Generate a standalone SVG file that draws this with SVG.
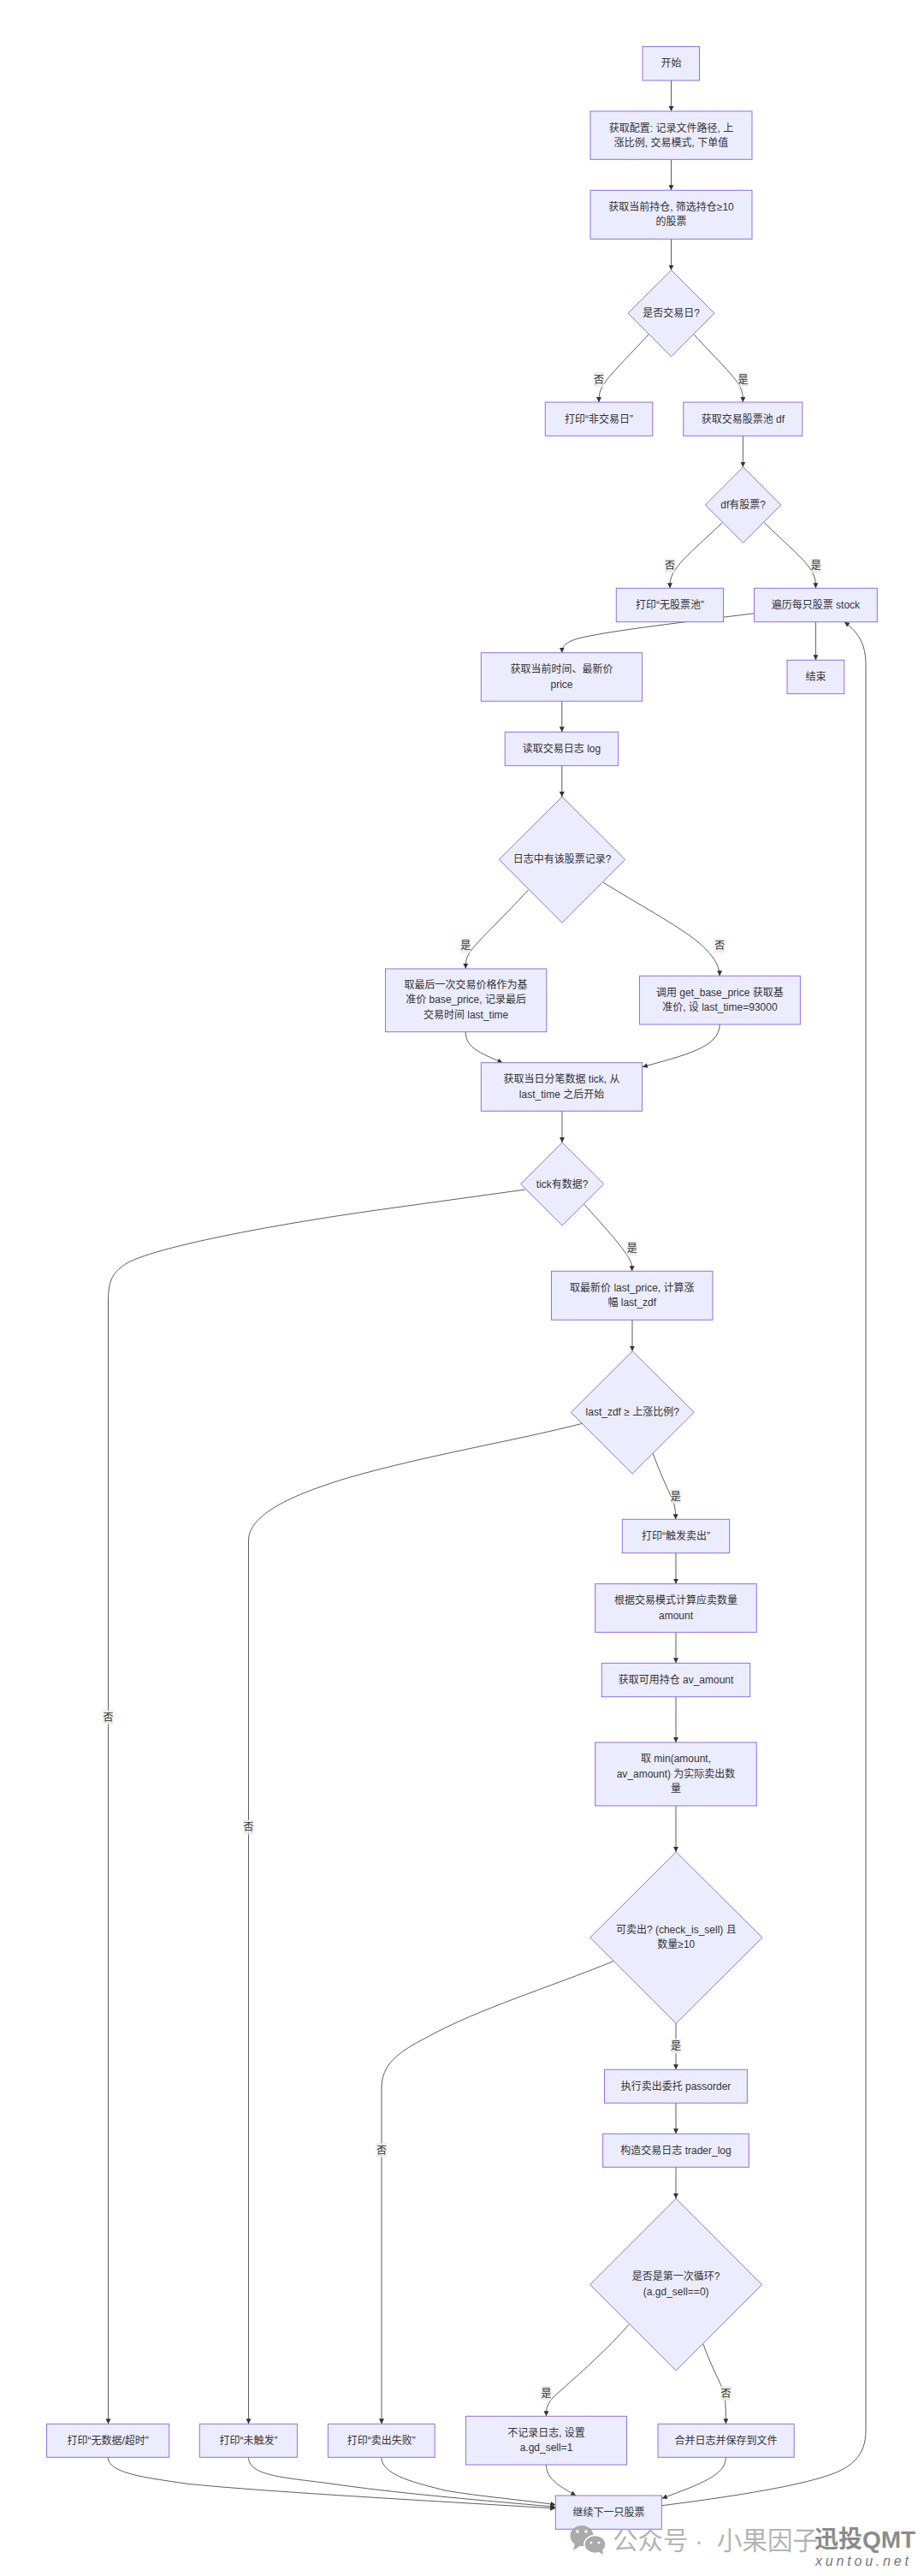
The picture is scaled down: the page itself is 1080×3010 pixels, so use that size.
<svg xmlns="http://www.w3.org/2000/svg" width="1080" height="3010" viewBox="0 0 1080 3010">
<style>
text{font-family:"Liberation Sans","Noto Sans CJK SC",sans-serif;font-size:12px;fill:#333;text-anchor:middle;dominant-baseline:central}
.n rect,.n polygon{fill:#ECECFF;stroke:#9370DB;stroke-width:1}
#edges path{fill:none;stroke:#333;stroke-width:.8;marker-end:url(#a)}
.l rect{fill:#e8e8e8;fill-opacity:.8}
#watermark text.w{font-size:29.5px;fill:#b4b4b4;text-anchor:start}
#watermark text.q{font-size:28px;font-weight:700;fill:#808080;text-anchor:start;fill-opacity:.92}
#watermark text.x{font-size:16px;font-style:italic;fill:#777;text-anchor:start;letter-spacing:3.8px}
</style>
<defs><marker id="a" markerUnits="userSpaceOnUse" viewBox="0 0 6 6" refX="6" refY="3" markerWidth="6" markerHeight="6" orient="auto-start-reverse"><path d="M0 0L6 3L0 6z" fill="#333"/></marker></defs>
<rect width="1080" height="3010" fill="#fff"/>
<g id="edges">
<path d="M784.5 94V130"/>
<path d="M784.5 186.3V222.3"/>
<path d="M784.5 279.3V315.7"/>
<path d="M758.2 390.7C735 416 712 438 705 450C700 458 700 464 700 470"/>
<path d="M811 390.7C834 416 857 438 864 450C868.4 458 868.4 464 868.4 470"/>
<path d="M868.4 509.3V545.7"/>
<path d="M844.3 610.7C820 634 798 652 789 666C783 675 783 680 783 687.3"/>
<path d="M893.3 610.7C917 634 939 652 948 666C953.4 675 953.4 680 953.4 687.3"/>
<path d="M953.4 726.7V771.3"/>
<path d="M881.5 716.7C800 727 720 736 680 745C663 749 656.8 754 656.8 762.7"/>
<path d="M656.8 819.3V855.3"/>
<path d="M656.8 894.7V931"/>
<path d="M617.4 1040C590 1070 562 1096 551 1110C544.3 1119 544.3 1124 544.3 1132"/>
<path d="M705 1031C745 1056 790 1080 815 1100C833 1115 841 1128 841.2 1140.3"/>
<path d="M544.3 1205.7C544.3 1224 560 1230 587.5 1241.7"/>
<path d="M841.2 1197C841.2 1224 800 1233 751 1246.7"/>
<path d="M657 1298.3V1335"/>
<path d="M682.4 1406.7C705 1432 725 1454 733 1467C738.7 1475 738.7 1478 738.7 1485.3"/>
<path d="M613.8 1390L457 1411.7C330 1429 190 1455 150 1475C132 1486 126.5 1495 126.5 1520V2832.3"/>
<path d="M739 1542.3V1578.7"/>
<path d="M763.3 1698.3C772 1724 785 1748 788 1758C789.7 1765 789.7 1770 789.7 1775.3"/>
<path d="M680.6 1663.3C600 1684 500 1700 406 1727C340 1747 290.5 1770 290.5 1800V2832.3"/>
<path d="M790 1814.7V1850.7"/>
<path d="M790 1907.3V1943.3"/>
<path d="M790 1982.7V2036"/>
<path d="M790 2110V2164"/>
<path d="M790 2364.3V2418.3"/>
<path d="M790 2457.3V2493.3"/>
<path d="M790 2532.3V2569"/>
<path d="M716.9 2291.7C640 2323 560 2347 500 2380C465 2398 446 2412 446 2440V2832.3"/>
<path d="M735.2 2716C700 2756 660 2788 645 2803C638.5 2811 638.5 2816 638.5 2823.3"/>
<path d="M822 2739C832 2768 845 2788 847 2800C848.4 2810 848.4 2820 848.4 2832.3"/>
<path d="M638.5 2880C638.5 2896 652 2904 673.2 2916"/>
<path d="M848.4 2871.3C848.4 2892 820 2902 773.8 2919.3"/>
<path d="M445.8 2871.3C445.8 2893 490 2902 520 2910C560 2917 610 2921 649.3 2926.7"/>
<path d="M290.5 2871.3C290.5 2895 340 2895 400 2904C480 2915 570 2922 649.2 2929.3"/>
<path d="M126.2 2871.3C126.2 2890 170 2895 217 2902C300 2911 500 2922 649.2 2931"/>
<path d="M773.8 2927.7C850 2918 920 2907 960 2895C995 2885 1012 2870 1012 2840V777C1012 755 1005 740 987 726.7"/>
</g>
<g id="edge-labels">
<g class="l"><rect x="694" y="435" width="12" height="17"/><text x="700" y="443.5">否</text></g>
<g class="l"><rect x="862.4" y="435" width="12" height="17"/><text x="868.4" y="443.5">是</text></g>
<g class="l"><rect x="777" y="652.5" width="12" height="17"/><text x="783" y="661">否</text></g>
<g class="l"><rect x="947.8" y="652.5" width="12" height="17"/><text x="953.8" y="661">是</text></g>
<g class="l"><rect x="538.3" y="1096.5" width="12" height="17"/><text x="544.3" y="1105">是</text></g>
<g class="l"><rect x="835.2" y="1096.5" width="12" height="17"/><text x="841.2" y="1105">否</text></g>
<g class="l"><rect x="732.7" y="1450.5" width="12" height="17"/><text x="738.7" y="1459">是</text></g>
<g class="l"><rect x="120.5" y="1998" width="12" height="17"/><text x="126.5" y="2006.5">否</text></g>
<g class="l"><rect x="783.8" y="1740" width="12" height="17"/><text x="789.8" y="1748.5">是</text></g>
<g class="l"><rect x="284.5" y="2126.5" width="12" height="17"/><text x="290.5" y="2135">否</text></g>
<g class="l"><rect x="784" y="2382.5" width="12" height="17"/><text x="790" y="2391">是</text></g>
<g class="l"><rect x="440" y="2504" width="12" height="17"/><text x="446" y="2512.5">否</text></g>
<g class="l"><rect x="632.5" y="2788" width="12" height="17"/><text x="638.5" y="2796.5">是</text></g>
<g class="l"><rect x="842.4" y="2788" width="12" height="17"/><text x="848.4" y="2796.5">否</text></g>
</g>
<g id="start" class="n"><rect x="751" y="54.5" width="66.5" height="39.5"/><text x="784.5" y="74">开始</text></g>
<g id="config" class="n"><rect x="690" y="130" width="189" height="56.3"/><text x="784.5" y="149.5">获取配置: 记录文件路径, 上</text><text x="784.5" y="166.8">涨比例, 交易模式, 下单值</text></g>
<g id="pos" class="n"><rect x="690" y="222.3" width="189" height="57"/><text x="784.5" y="242">获取当前持仓, 筛选持仓≥10</text><text x="784.5" y="259.3">的股票</text></g>
<g id="d1" class="n"><polygon points="784.6,315.7 835,366 784.6,416.7 734,366"/><text x="784.6" y="366">是否交易日?</text></g>
<g id="notday" class="n"><rect x="637.3" y="470" width="125.5" height="39.3"/><text x="700" y="489.5">打印“非交易日”</text></g>
<g id="pool" class="n"><rect x="798.8" y="470" width="139" height="39.3"/><text x="868.3" y="489.5">获取交易股票池 df</text></g>
<g id="d2" class="n"><polygon points="868.6,545.7 912.8,590 868.6,634.3 824.4,590"/><text x="868.6" y="590">df有股票?</text></g>
<g id="nopool" class="n"><rect x="720.3" y="687.3" width="125.2" height="39.4"/><text x="783" y="707">打印“无股票池”</text></g>
<g id="loop" class="n"><rect x="881.5" y="687.3" width="143.8" height="39.4"/><text x="953.4" y="707">遍历每只股票 stock</text></g>
<g id="end" class="n"><rect x="920" y="771.3" width="66.7" height="39.4"/><text x="953.4" y="791">结束</text></g>
<g id="price" class="n"><rect x="562.3" y="762.7" width="188.3" height="56.6"/><text x="656.5" y="782.3">获取当前时间、最新价</text><text x="656.5" y="799.6">price</text></g>
<g id="log" class="n"><rect x="590.2" y="855.3" width="132.4" height="39.4"/><text x="656.5" y="875">读取交易日志 log</text></g>
<g id="d3" class="n"><polygon points="657,931 730.7,1004.3 657,1078.3 583.3,1004.3"/><text x="657" y="1004.3">日志中有该股票记录?</text></g>
<g id="last" class="n"><rect x="450.5" y="1132" width="188.3" height="73.7"/><text x="544.6" y="1151">取最后一次交易价格作为基</text><text x="544.6" y="1168.4">准价 base_price, 记录最后</text><text x="544.6" y="1185.8">交易时间 last_time</text></g>
<g id="base" class="n"><rect x="747.5" y="1140.3" width="187.9" height="56.7"/><text x="841.4" y="1160">调用 get_base_price 获取基</text><text x="841.4" y="1177.3">准价, 设 last_time=93000</text></g>
<g id="tick" class="n"><rect x="562.3" y="1241.7" width="188.3" height="56.6"/><text x="656.5" y="1261.3">获取当日分笔数据 tick, 从</text><text x="656.5" y="1278.6">last_time 之后开始</text></g>
<g id="d4" class="n"><polygon points="657.2,1335 705.8,1383.5 657.2,1432 608.6,1383.5"/><text x="657.2" y="1383.5">tick有数据?</text></g>
<g id="zdf" class="n"><rect x="644.5" y="1485.3" width="188.5" height="57"/><text x="738.8" y="1505">取最新价 last_price, 计算涨</text><text x="738.8" y="1522.3">幅 last_zdf</text></g>
<g id="d5" class="n"><polygon points="739.2,1578.7 811.2,1650.3 739.2,1722 667.3,1650.3"/><text x="739.2" y="1650.3">last_zdf ≥ 上涨比例?</text></g>
<g id="fire" class="n"><rect x="727.3" y="1775.3" width="125.4" height="39.4"/><text x="790" y="1795">打印“触发卖出”</text></g>
<g id="calc" class="n"><rect x="695.7" y="1850.7" width="188.6" height="56.6"/><text x="790" y="1870.3">根据交易模式计算应卖数量</text><text x="790" y="1887.6">amount</text></g>
<g id="avail" class="n"><rect x="703.3" y="1943.3" width="173.4" height="39.4"/><text x="790" y="1963">获取可用持仓 av_amount</text></g>
<g id="minamt" class="n"><rect x="695.7" y="2036" width="188.6" height="74"/><text x="790" y="2055.3">取 min(amount,</text><text x="790" y="2072.7">av_amount) 为实际卖出数</text><text x="790" y="2090">量</text></g>
<g id="d6" class="n"><polygon points="790.3,2164 891,2264 790.3,2364.3 689.7,2264"/><text x="790.3" y="2255">可卖出? (check_is_sell) 且</text><text x="790.3" y="2272.3">数量≥10</text></g>
<g id="order" class="n"><rect x="706.5" y="2418.3" width="166.9" height="39"/><text x="790" y="2437.8">执行卖出委托 passorder</text></g>
<g id="tlog" class="n"><rect x="704.6" y="2493.3" width="170.7" height="39"/><text x="790" y="2512.8">构造交易日志 trader_log</text></g>
<g id="d7" class="n"><polygon points="790.2,2569 890.5,2669.5 790.2,2770 689.7,2669.5"/><text x="790.2" y="2660.3">是否是第一次循环?</text><text x="790.2" y="2677.7">(a.gd_sell==0)</text></g>
<g id="nolog" class="n"><rect x="544.4" y="2823.3" width="188.2" height="56.7"/><text x="638.5" y="2843">不记录日志, 设置</text><text x="638.5" y="2860.3">a.gd_sell=1</text></g>
<g id="save" class="n"><rect x="769" y="2832.3" width="159.2" height="39"/><text x="848.6" y="2851.8">合并日志并保存到文件</text></g>
<g id="fail" class="n"><rect x="383.4" y="2832.3" width="124.8" height="39"/><text x="445.8" y="2851.8">打印“卖出失败”</text></g>
<g id="notrig" class="n"><rect x="233.3" y="2832.3" width="114.1" height="39"/><text x="290.4" y="2851.8">打印“未触发”</text></g>
<g id="nodata" class="n"><rect x="54.6" y="2832.3" width="143.1" height="39"/><text x="126.2" y="2851.8">打印“无数据/超时”</text></g>
<g id="next" class="n"><rect x="649.3" y="2916" width="124.1" height="39.3"/><text x="711.4" y="2935.6">继续下一只股票</text></g>
<g id="watermark">
<g fill="#aaa"><ellipse cx="680" cy="2963" rx="13.5" ry="12"/><path d="M672 2972l-2 8 8-5z"/><ellipse cx="695.5" cy="2973" rx="12.5" ry="10.5" stroke="#fff" stroke-width="1.5"/><path d="M700 2982l5 3-1-6z"/></g>
<g fill="#fff"><circle cx="675" cy="2958" r="1.8"/><circle cx="685" cy="2958" r="1.8"/><circle cx="691" cy="2971" r="1.5"/><circle cx="700" cy="2971" r="1.5"/></g>
<text class="w" x="716" y="2968">公众号</text><text class="w" x="812" y="2968">·</text><text class="w" x="838" y="2968">小果因子</text>
<text class="q" x="952" y="2967">迅投QMT</text>
<text class="x" x="953" y="2992">xuntou.net</text>
</g>
</svg>
